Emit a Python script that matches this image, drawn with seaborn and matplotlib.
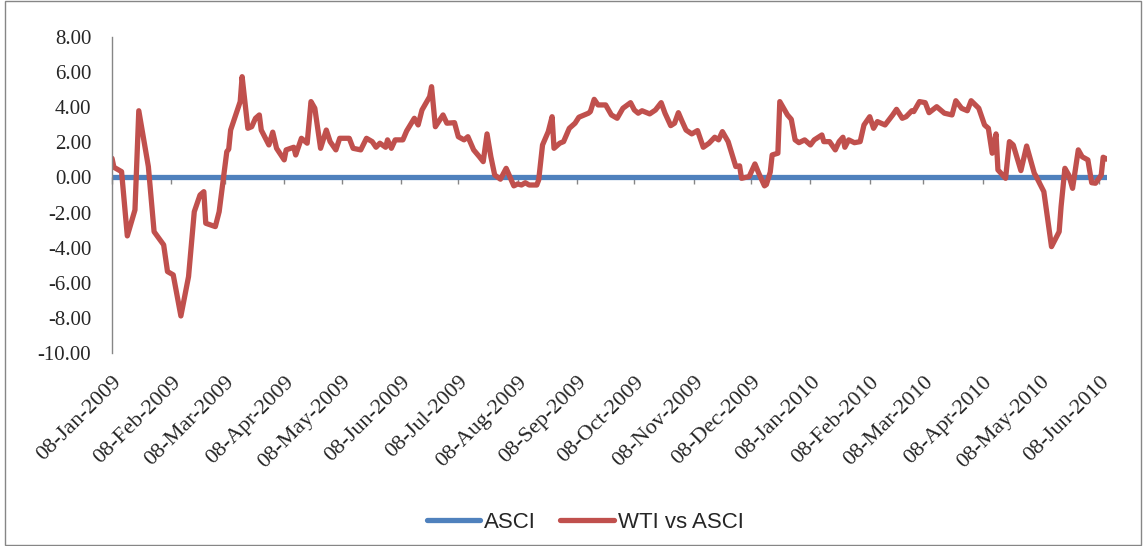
import numpy as np
import pandas as pd
import matplotlib
matplotlib.use("Agg")
import matplotlib.pyplot as plt
from matplotlib.patches import Rectangle
from matplotlib.ticker import FormatStrFormatter
import seaborn as sns

dates = [
    "2009-01-08", "2009-01-09", "2009-01-13", "2009-01-16", "2009-01-20", "2009-01-22", "2009-01-27", "2009-01-30",
    "2009-02-04", "2009-02-06", "2009-02-09", "2009-02-13", "2009-02-17", "2009-02-20", "2009-02-23", "2009-02-25", "2009-02-26",
    "2009-03-03", "2009-03-05", "2009-03-09", "2009-03-10", "2009-03-11", "2009-03-16", "2009-03-17", "2009-03-20", "2009-03-22",
    "2009-03-24", "2009-03-26", "2009-03-27", "2009-03-31",
    "2009-04-02", "2009-04-04", "2009-04-08", "2009-04-09", "2009-04-13", "2009-04-14", "2009-04-17", "2009-04-20", "2009-04-22",
    "2009-04-24", "2009-04-27", "2009-04-30",
    "2009-05-02", "2009-05-05", "2009-05-07", "2009-05-12", "2009-05-14", "2009-05-18", "2009-05-21", "2009-05-24", "2009-05-26",
    "2009-05-28", "2009-05-31",
    "2009-06-01", "2009-06-03", "2009-06-05", "2009-06-09", "2009-06-11", "2009-06-15", "2009-06-17", "2009-06-19", "2009-06-23",
    "2009-06-24", "2009-06-26", "2009-06-30",
    "2009-07-02", "2009-07-06", "2009-07-08", "2009-07-11", "2009-07-13", "2009-07-16", "2009-07-19", "2009-07-21", "2009-07-23",
    "2009-07-25", "2009-07-27", "2009-07-30",
    "2009-08-02", "2009-08-06", "2009-08-08", "2009-08-10", "2009-08-12", "2009-08-14", "2009-08-18", "2009-08-19", "2009-08-21",
    "2009-08-24", "2009-08-26", "2009-08-27", "2009-08-30",
    "2009-09-01", "2009-09-04", "2009-09-07", "2009-09-09", "2009-09-14", "2009-09-15", "2009-09-17", "2009-09-19", "2009-09-23",
    "2009-09-26", "2009-09-29",
    "2009-10-02", "2009-10-06", "2009-10-08", "2009-10-10", "2009-10-12", "2009-10-16", "2009-10-19", "2009-10-22", "2009-10-24",
    "2009-10-27", "2009-10-29", "2009-10-31",
    "2009-11-02", "2009-11-04", "2009-11-07", "2009-11-10", "2009-11-13", "2009-11-16", "2009-11-19", "2009-11-21", "2009-11-23",
    "2009-11-26", "2009-11-30",
    "2009-12-02", "2009-12-03", "2009-12-07", "2009-12-10", "2009-12-12", "2009-12-15", "2009-12-16", "2009-12-18", "2009-12-19",
    "2009-12-22", "2009-12-23", "2009-12-27", "2009-12-29", "2009-12-31",
    "2010-01-02", "2010-01-05", "2010-01-08", "2010-01-10", "2010-01-14", "2010-01-15", "2010-01-18", "2010-01-21", "2010-01-23",
    "2010-01-25", "2010-01-26", "2010-01-28", "2010-01-31",
    "2010-02-03", "2010-02-05", "2010-02-08", "2010-02-10", "2010-02-12", "2010-02-16", "2010-02-20", "2010-02-22", "2010-02-25",
    "2010-02-27",
    "2010-03-02", "2010-03-03", "2010-03-06", "2010-03-09", "2010-03-11", "2010-03-15", "2010-03-19", "2010-03-23", "2010-03-25",
    "2010-03-28", "2010-03-31",
    "2010-04-02", "2010-04-06", "2010-04-09", "2010-04-11", "2010-04-13", "2010-04-15", "2010-04-16", "2010-04-20", "2010-04-22",
    "2010-04-24", "2010-04-28",
    "2010-05-01", "2010-05-05", "2010-05-06", "2010-05-10", "2010-05-14", "2010-05-18", "2010-05-19", "2010-05-21", "2010-05-23",
    "2010-05-25", "2010-05-28", "2010-05-30",
    "2010-06-02", "2010-06-04", "2010-06-06", "2010-06-09", "2010-06-10", "2010-06-12",
]

wti_vs_asci = [
    1.09, 0.58, 0.33, -3.33, -1.85, 3.80, 0.62, -3.09,
    -3.84, -5.36, -5.55, -7.89, -5.65, -1.95, -1.00, -0.81, -2.61,
    -2.80, -1.95, 1.47, 1.61, 2.70, 4.32, 5.74, 2.80, 2.89, 3.37, 3.56, 2.70, 1.85,
    2.58, 1.66, 1.00, 1.57, 1.72, 1.28, 2.23, 1.95, 4.32, 3.94, 1.66, 2.70,
    2.04, 1.57, 2.23, 2.23, 1.66, 1.57, 2.23, 2.04, 1.72, 1.95, 1.72,
    2.14, 1.66, 2.14, 2.14, 2.65, 3.37, 2.99, 3.84, 4.60, 5.17, 2.89, 3.56,
    3.09, 3.12, 2.32, 2.14, 2.32, 1.57, 1.18, 0.90, 2.48, 1.18, 0.14, -0.10,
    0.52, -0.48, -0.37, -0.43, -0.30, -0.43, -0.43, -0.14, 1.85, 2.61, 3.46, 1.66, 1.95,
    2.04, 2.80, 3.09, 3.43, 3.66, 3.75, 4.45, 4.13, 4.13, 3.56, 3.37,
    3.94, 4.26, 3.84, 3.66, 3.80, 3.62, 3.84, 4.26, 3.66, 2.95, 3.09, 3.69,
    3.18, 2.70, 2.48, 2.67, 1.72, 1.95, 2.29, 2.14, 2.61, 2.04, 0.62,
    0.66, -0.05, 0.05, 0.77, 0.24, -0.48, -0.40, 0.30, 1.28, 1.38, 4.32, 3.56, 3.31, 2.14,
    1.98, 2.14, 1.85, 2.14, 2.42, 2.04, 2.04, 1.57, 2.04, 2.29, 1.72, 2.14, 1.98,
    2.04, 2.99, 3.46, 2.80, 3.18, 2.99, 3.56, 3.88, 3.37, 3.46,
    3.80, 3.75, 4.32, 4.26, 3.69, 4.03, 3.66, 3.56, 4.37, 3.94, 3.80,
    4.37, 3.94, 2.99, 2.80, 1.38, 2.48, 0.43, -0.05, 2.04, 1.85, 0.39,
    1.79, 0.24, 0.05, -0.81, -3.94, -3.09, -1.66, 0.52, 0.14, -0.62, 1.57, 1.18,
    1.00, -0.30, -0.33, 0.14, 1.15, 1.04,
]

# ASCI against itself is flat at zero
asci = [0.0] * len(dates)

month_labels = [
    "08-Jan-2009", "08-Feb-2009", "08-Mar-2009", "08-Apr-2009", "08-May-2009", "08-Jun-2009",
    "08-Jul-2009", "08-Aug-2009", "08-Sep-2009", "08-Oct-2009", "08-Nov-2009", "08-Dec-2009",
    "08-Jan-2010", "08-Feb-2010", "08-Mar-2010", "08-Apr-2010", "08-May-2010", "08-Jun-2010",
]

df = pd.DataFrame({"date": pd.to_datetime(dates), "ASCI": asci, "WTI vs ASCI": wti_vs_asci})
long_df = df.melt(id_vars="date", var_name="series", value_name="value")

sns.set_style("white")
plt.rcParams["font.family"] = ["Liberation Serif", "DejaVu Serif"]

W, H = 1143, 546
fig = plt.figure(figsize=(W / 100, H / 100), dpi=100)
ax = fig.add_axes([112 / W, 1 - 353 / H, 995 / W, 316 / H])

sns.lineplot(data=long_df, x="date", y="value", hue="series",
             hue_order=["ASCI", "WTI vs ASCI"],
             palette={"ASCI": "#4F81BD", "WTI vs ASCI": "#C0504D"},
             linewidth=3.8, errorbar=None, ax=ax)

ax.set_xlim(df["date"].iloc[0], df["date"].iloc[-1])
ax.set_ylim(-10, 8)
ax.set_yticks(np.arange(-10, 9, 2))
ax.yaxis.set_major_formatter(FormatStrFormatter("%.2f"))
ax.tick_params(axis="y", labelsize=15, length=5, width=1, color="#868686", direction="out", pad=10)

tick_dates = pd.to_datetime(month_labels, format="%d-%b-%Y")
ax.set_xticks(tick_dates)
ax.set_xticklabels(month_labels, rotation=45, ha="right", rotation_mode="anchor", fontsize=16)
ax.tick_params(axis="x", length=0, pad=14)
ax.set_xlabel("")
ax.set_ylabel("")

for side in ["top", "right", "bottom"]:
    ax.spines[side].set_visible(False)
ax.spines["left"].set_color("#868686")
ax.spines["left"].set_linewidth(1)

# category axis crosses at zero: tick marks hang below the zero line
sec = ax.secondary_xaxis(0, transform=ax.transData)
sec.set_xticks(tick_dates)
sec.tick_params(axis="x", length=5, width=1, color="#868686", labelbottom=False)
sec.spines["bottom"].set_visible(False)

sns.move_legend(ax, "center", bbox_to_anchor=(585 / W, 1 - 522 / H), bbox_transform=fig.transFigure,
                ncol=2, frameon=False, title=None,
                prop={"family": ["Liberation Sans", "DejaVu Sans"], "size": 16},
                handlelength=2.4, handletextpad=0.18, columnspacing=1.1)

fig.patches.append(Rectangle((0.004, 0.002), 0.994, 0.996, transform=fig.transFigure,
                             fill=False, edgecolor="#868686", linewidth=1))

fig.savefig("out.png", dpi=100)
